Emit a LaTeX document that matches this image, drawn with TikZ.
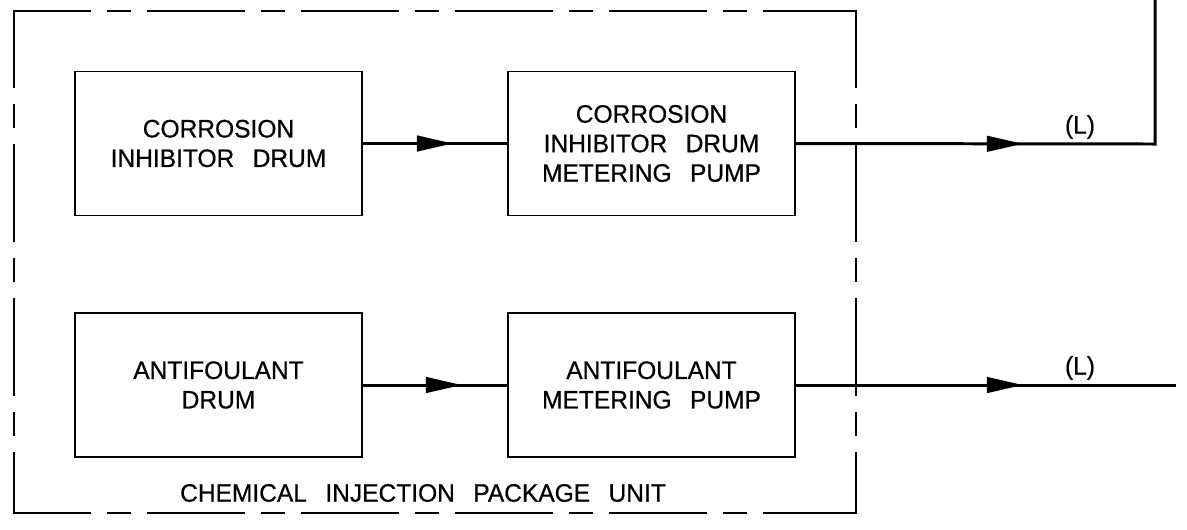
\documentclass[tikz,border=0pt]{standalone}
\usepackage{fontspec}
\setmainfont{Liberation Sans}
\newfontfamily\cadfamily{Liberation Sans}[WordSpace=2.7, FakeStretch=0.97, FakeBold=0.6]
\usetikzlibrary{arrows.meta,decorations.markings}
\begin{document}
\begin{tikzpicture}[x=0.02cm,y=-0.02cm,
  cad/.style={font=\cadfamily\fontsize{14.4}{16.8}\selectfont},
  unitbox/.style={draw, line width=1.1pt, minimum width=5.74cm, minimum height=2.88cm, inner sep=0pt, align=center, cad},
  flow/.style={line width=1.7pt, postaction={decorate},
    decoration={markings, mark=at position #1 with {\arrow{Triangle[length=0.72cm,width=0.31cm]}}}},
  border/.style={line width=1.2pt, line cap=rect, dash pattern=on 1.92cm off 0.36cm on 0.44cm off 0.36cm, dash phase=0.4cm},
  lbl/.style={cad, inner sep=0pt}
]
\useasboundingbox (0,0) rectangle (1187,529);

% package unit border
\coordinate (tl) at (14,11);
\coordinate (tr) at (856,11);
\coordinate (bl) at (14,513);
\coordinate (br) at (856,513);
\draw[border] (tl) -- (tr);
\draw[border] (tl) -- (bl);
\draw[border] (bl) -- (br);
\draw[border] (tr) -- (br);

% units
\node[unitbox] (cid) at (218.5,143.5) {CORROSION\\INHIBITOR DRUM};
\node[unitbox] (cip) at (651.5,143.5) {CORROSION\\INHIBITOR DRUM\\METERING PUMP};
\node[unitbox] (afd) at (218.5,385) {ANTIFOULANT\\DRUM};
\node[unitbox] (afp) at (651.5,385) {ANTIFOULANT\\METERING PUMP};

\node[lbl] (pkg) at (423,493) {CHEMICAL INJECTION PACKAGE UNIT};

% outlets
\coordinate (c1) at (1155,144);
\coordinate (top) at (1155,0);
\coordinate (out2) at (1176,385);

\draw[flow=1.8cm] (cid.east) -- (cip.west);
\draw[flow=4.54cm] (cip.east) -- (c1) -- (top);
\draw[flow=1.98cm] (afd.east) -- (afp.west);
\draw[flow=4.54cm] (afp.east) -- (out2);

\node[lbl] (l1) at (1080,127) {(L)};
\node[lbl] (l2) at (1080,368) {(L)};
\end{tikzpicture}
\end{document}
